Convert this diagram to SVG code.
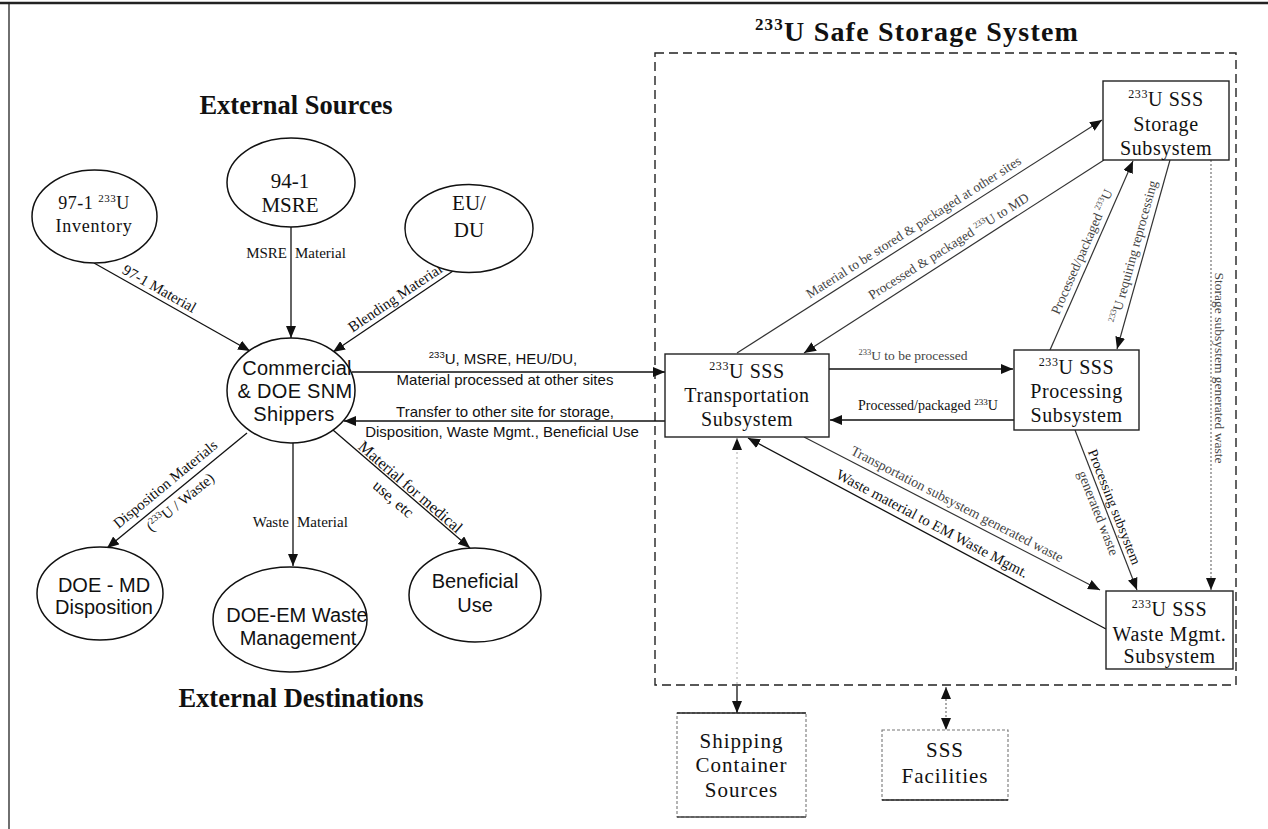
<svg xmlns="http://www.w3.org/2000/svg" width="1268" height="829" viewBox="0 0 1268 829">
<defs>
<style>
.sf{font-family:"Liberation Serif","Times New Roman",serif;}
.ss{font-family:"Liberation Sans",Arial,sans-serif;}
.t{fill:#111;text-anchor:middle;}
.il{fill:#444;text-anchor:middle;}
.node{fill:#fff;stroke:#111;stroke-width:1.5;}
.box{fill:#fff;stroke:#222;stroke-width:1.4;}
.lbox{fill:#fff;stroke:#777;stroke-width:1.1;stroke-dasharray:3 2;}
.conn{fill:none;stroke:#111;stroke-width:1.3;}
.conn2{fill:none;stroke:#333;stroke-width:1.2;}
.faint{fill:none;stroke:#aaa;stroke-width:1;stroke-dasharray:2 3;}
.dot{fill:none;stroke:#666;stroke-width:1.1;stroke-dasharray:2 2;}
.frame{fill:none;stroke:#222;}
</style>
<marker id="ah" viewBox="0 0 12 10" refX="12" refY="5" markerWidth="12" markerHeight="10" markerUnits="userSpaceOnUse" orient="auto-start-reverse"><path d="M0,0 L12,5 L0,10 Z" fill="#111"/></marker>
</defs>
<rect x="0" y="0" width="1268" height="829" fill="#fff"/>
<g id="frame">
<path class="frame" d="M0,3 H1268" stroke-width="2.5"/>
<path class="frame" d="M9,3 V829" stroke-width="1.3"/>
<path d="M655,53 H1236 V685 H655 Z" fill="none" stroke="#222" stroke-width="1.4" stroke-dasharray="9 5"/>
</g>
<g id="headings">
<text class="sf t" x="917" y="41" font-size="28" font-weight="bold" letter-spacing="1.2"><tspan font-size="17" dy="-11">233</tspan><tspan dy="11">U Safe Storage System</tspan></text>
<text class="sf t" x="296" y="114" font-size="26.5" font-weight="bold">External Sources</text>
<text class="sf t" x="301" y="707" font-size="26.5" font-weight="bold">External Destinations</text>
</g>
<g id="connectors">
<path class="conn" d="M94,263 L250,351" marker-end="url(#ah)"/>
<path class="conn" d="M291,227 L291,338" marker-end="url(#ah)"/>
<path class="conn" d="M453,271 L333,352" marker-end="url(#ah)"/>
<path class="conn" d="M247,433 L107,548" marker-end="url(#ah)"/>
<path class="conn" d="M293,443 L293,566" marker-end="url(#ah)"/>
<path class="conn" d="M333,430 L470,548" marker-end="url(#ah)"/>
<path class="conn" d="M352,372 L665,372" marker-end="url(#ah)"/>
<path class="conn" d="M665,421 L344,421" marker-end="url(#ah)"/>
<path class="conn2" d="M737,353 L1102,120" marker-end="url(#ah)"/>
<path class="conn2" d="M1104,160 L804,353" marker-end="url(#ah)"/>
<path class="conn2" d="M1050,350 L1133,161" marker-end="url(#ah)"/>
<path class="conn2" d="M1170,160 L1117,349" marker-end="url(#ah)"/>
<path class="conn" d="M829,369 L1013,369" marker-end="url(#ah)"/>
<path class="conn" d="M1014,420 L830,420" marker-end="url(#ah)"/>
<path class="conn2" d="M804,437 L1100,590" marker-end="url(#ah)"/>
<path class="conn" d="M1106,629 L748,438" marker-end="url(#ah)"/>
<path class="conn2" d="M1075,430 L1137,590" marker-end="url(#ah)"/>
<path class="dot" d="M1211,160 L1211,590" marker-end="url(#ah)"/>
<path class="faint" d="M737,684 L737,438" marker-end="url(#ah)"/>
<path class="conn" d="M737,686 L737,713" marker-end="url(#ah)"/>
<path class="dot" d="M946,687 L946,730" marker-start="url(#ah)" marker-end="url(#ah)"/>
</g>
<g id="labels">
<text class="sf t" font-size="15" transform="translate(157,293) rotate(29.4)">97-1 Material</text>
<text class="sf" font-size="15" y="258" fill="#111"><tspan x="287" text-anchor="end">MSRE</tspan><tspan x="295" text-anchor="start">Material</tspan></text>
<text class="sf t" font-size="15" transform="translate(398,302) rotate(-34)">Blending Material</text>
<text class="sf t" font-size="15" transform="translate(168.5,488) rotate(-39.4)">Disposition Materials</text>
<text class="sf t" font-size="15" transform="translate(183.5,506) rotate(-39.4)">(<tspan font-size="9.5" dy="-6">233</tspan><tspan dy="6">U / Waste)</tspan></text>
<text class="sf" font-size="15" y="527" fill="#111"><tspan x="289" text-anchor="end">Waste</tspan><tspan x="297" text-anchor="start">Material</tspan></text>
<text class="sf t" font-size="16" transform="translate(407,491) rotate(40.7)">Material for medical</text>
<text class="sf t" font-size="16" transform="translate(390,503) rotate(40.7)">use, etc</text>
<text class="ss t" font-size="15" x="503" y="364"><tspan font-size="9.5" dy="-6">233</tspan><tspan dy="6">U, MSRE, HEU/DU,</tspan></text>
<text class="ss t" font-size="15" x="505" y="385">Material processed at other sites</text>
<text class="ss t" font-size="15" x="505" y="417">Transfer to other site for storage,</text>
<text class="ss t" font-size="15" x="502" y="437">Disposition, Waste Mgmt., Beneficial Use</text>
<text class="sf il" font-size="13.5" transform="translate(916,231) rotate(-32.55)">Material to be stored &amp; packaged at other sites</text>
<text class="sf il" font-size="13.5" transform="translate(951,250) rotate(-32.3)">Processed &amp; packaged <tspan font-size="8.5" dy="-5">233</tspan><tspan dy="5">U to MD</tspan></text>
<text class="sf il" font-size="13.5" transform="translate(1086,253.6) rotate(-66.4)">Processed/packaged <tspan font-size="8.5" dy="-5">233</tspan><tspan dy="5">U</tspan></text>
<text class="sf il" font-size="13.5" transform="translate(1137.7,252.9) rotate(-74.5)"><tspan font-size="8.5" dy="-5">233</tspan><tspan dy="5">U requiring reprocessing</tspan></text>
<text class="sf il" font-size="13.5" x="913" y="360"><tspan font-size="8.5" dy="-5">233</tspan><tspan dy="5">U to be processed</tspan></text>
<text class="sf t" font-size="14" x="928" y="410">Processed/packaged <tspan font-size="9" dy="-5">233</tspan><tspan dy="5">U</tspan></text>
<text class="sf il" font-size="14" transform="translate(955,508) rotate(27.3)">Transportation subsystem generated waste</text>
<text class="sf t" font-size="15" transform="translate(930,528) rotate(27.9)">Waste material to EM Waste Mgmt.</text>
<text class="sf t" font-size="14" transform="translate(1110,508.5) rotate(68.6)">Processing subsystem</text>
<text class="sf il" font-size="14" transform="translate(1094,514.7) rotate(68.6)">generated waste</text>
<text class="sf il" font-size="13.5" transform="translate(1215,368) rotate(90)">Storage subsystem generated waste</text>
</g>
<g id="n-inventory">
<ellipse class="node" cx="94.5" cy="216.5" rx="62.5" ry="46.5"/>
<text class="sf t" x="94" y="209" font-size="18" letter-spacing="0.5">97-1 <tspan font-size="11" dy="-7">233</tspan><tspan dy="7">U</tspan></text>
<text class="sf t" x="94" y="232" font-size="18" letter-spacing="0.8">Inventory</text>
</g>
<g id="n-msre">
<ellipse class="node" cx="291" cy="182.5" rx="64" ry="44.5"/>
<text class="sf t" x="290" y="188" font-size="21">94-1</text>
<text class="sf t" x="290" y="212" font-size="21">MSRE</text>
</g>
<g id="n-eudu">
<ellipse class="node" cx="469" cy="228.5" rx="64" ry="44"/>
<text class="sf t" x="469" y="210" font-size="21">EU/</text>
<text class="sf t" x="469" y="237" font-size="21">DU</text>
</g>
<g id="n-shippers">
<ellipse class="node" cx="291" cy="390.5" rx="64" ry="52.5"/>
<text class="ss t" x="297" y="375" font-size="20" letter-spacing="0.3">Commercial</text>
<text class="ss t" x="295" y="398" font-size="20" letter-spacing="0.3">&amp; DOE SNM</text>
<text class="ss t" x="294" y="421" font-size="20" letter-spacing="0.3">Shippers</text>
</g>
<g id="n-doe-md">
<ellipse class="node" cx="100" cy="593.5" rx="63" ry="46.5"/>
<text class="ss t" x="104" y="592" font-size="20">DOE - MD</text>
<text class="ss t" x="104" y="614" font-size="20">Disposition</text>
</g>
<g id="n-doe-em">
<ellipse class="node" cx="290" cy="619.5" rx="77" ry="52.5"/>
<text class="ss t" x="297" y="622" font-size="20">DOE-EM Waste</text>
<text class="ss t" x="298" y="645" font-size="20">Management</text>
</g>
<g id="n-beneficial">
<ellipse class="node" cx="475" cy="595" rx="66" ry="47"/>
<text class="ss t" x="475" y="588" font-size="20">Beneficial</text>
<text class="ss t" x="475" y="612" font-size="20">Use</text>
</g>
<g id="n-storage">
<rect class="box" x="1103" y="81" width="126" height="79"/>
<text class="sf t" x="1166" y="106" font-size="20" letter-spacing="0.6"><tspan font-size="12" dy="-8">233</tspan><tspan dy="8">U SSS</tspan></text>
<text class="sf t" x="1166" y="131" font-size="20" letter-spacing="0.6">Storage</text>
<text class="sf t" x="1166" y="155" font-size="20" letter-spacing="0.6">Subsystem</text>
</g>
<g id="n-processing">
<rect class="box" x="1014" y="350" width="125" height="80"/>
<text class="sf t" x="1076.5" y="374" font-size="20" letter-spacing="0.6"><tspan font-size="12" dy="-8">233</tspan><tspan dy="8">U SSS</tspan></text>
<text class="sf t" x="1076.5" y="398" font-size="20" letter-spacing="0.6">Processing</text>
<text class="sf t" x="1076.5" y="422" font-size="20" letter-spacing="0.6">Subsystem</text>
</g>
<g id="n-transportation">
<rect class="box" x="665" y="354" width="164" height="83"/>
<text class="sf t" x="747" y="378" font-size="20" letter-spacing="0.6"><tspan font-size="12" dy="-8">233</tspan><tspan dy="8">U SSS</tspan></text>
<text class="sf t" x="747" y="402" font-size="20" letter-spacing="0.6">Transportation</text>
<text class="sf t" x="747" y="426" font-size="20" letter-spacing="0.6">Subsystem</text>
</g>
<g id="n-waste">
<rect class="box" x="1106" y="591" width="127" height="78"/>
<text class="sf t" x="1169.5" y="616" font-size="20" letter-spacing="0.6"><tspan font-size="12" dy="-8">233</tspan><tspan dy="8">U SSS</tspan></text>
<text class="sf t" x="1169.5" y="641" font-size="20" letter-spacing="0.6">Waste Mgmt.</text>
<text class="sf t" x="1169.5" y="663" font-size="20" letter-spacing="0.6">Subsystem</text>
</g>
<g id="n-shipping">
<rect class="lbox" x="677" y="713" width="129" height="104"/>
<path d="M677,713 H806" stroke="#222" stroke-width="1.6"/>
<path d="M677,817 H806" stroke="#444" stroke-width="1.3"/>
<text class="sf t" x="741.5" y="748" font-size="21" letter-spacing="1">Shipping</text>
<text class="sf t" x="741.5" y="772" font-size="21" letter-spacing="1">Container</text>
<text class="sf t" x="741.5" y="797" font-size="21" letter-spacing="1">Sources</text>
</g>
<g id="n-facilities">
<rect class="lbox" x="882" y="730" width="126" height="70"/>
<path d="M882,800 H1008" stroke="#222" stroke-width="1.6"/>
<text class="sf t" x="945" y="757" font-size="21" letter-spacing="1">SSS</text>
<text class="sf t" x="945" y="783" font-size="21" letter-spacing="1">Facilities</text>
</g>
</svg>
